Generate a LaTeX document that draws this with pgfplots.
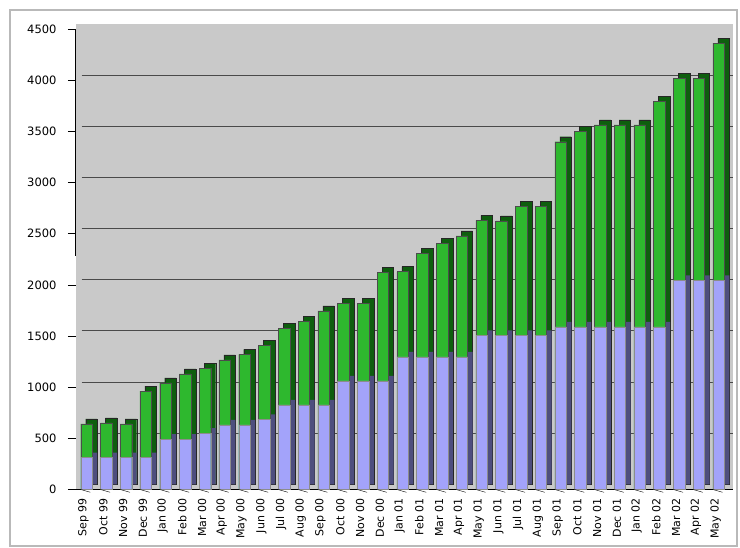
\documentclass[border=0pt]{standalone}
\usepackage{pgfplots}
\pgfplotsset{compat=1.18}
\usepackage{pgfplotstable}
\usepackage{fontspec}
\setmainfont{DejaVu Sans}

\definecolor{wallgray}{HTML}{C9C9C9}
\definecolor{gridgray}{HTML}{4A4A4A}
\definecolor{greenfront}{HTML}{2EB82E}
\definecolor{greenside}{HTML}{0E5E0E}
\definecolor{bluefront}{HTML}{A3A3FA}
\definecolor{blueside}{HTML}{4E4E7E}

% monthly totals and the lower (blue) share of each column
\pgfplotstableread{
idx total blue
0  640  310
1  650  310
2  640  310
3  960  310
4  1040 490
5  1130 490
6  1185 550
7  1265 630
8  1320 630
9  1410 685
10 1575 825
11 1640 825
12 1745 825
13 1820 1060
14 1820 1060
15 2125 1060
16 2130 1295
17 2310 1295
18 2405 1295
19 2480 1295
20 2630 1505
21 2625 1505
22 2765 1505
23 2765 1505
24 3400 1590
25 3500 1590
26 3565 1590
27 3565 1590
28 3565 1590
29 3795 1590
30 4020 2045
31 4020 2045
32 4365 2045
}\subs

\pgfplotsset{
  column/.style={ybar, bar width=11.5pt, bar shift=0pt},
  depth/.style={column, xshift=5pt, yshift=5pt},
}

\begin{document}
\begin{tikzpicture}
\useasboundingbox (0pt,0pt) rectangle (740pt,548pt);
\draw[gray!55, line width=1.5pt] (10pt,2pt) rectangle (737pt,538pt);
\begin{axis}[
  at={(76pt,58.7pt)}, anchor=south west, scale only axis,
  width=657pt, height=465.1pt,
  xmin=-0.53, xmax=32.73, ymin=0, ymax=4550,
  clip=false,
  axis background/.style={fill=wallgray},
  axis x line*=bottom, axis y line*=left,
  y axis line style={draw=none},
  x axis line style={black, line width=0.8pt, -},
  tick align=outside,
  major tick length=8pt,
  ytick={0,500,...,4500},
  ytick style={black, line width=0.6pt},
  xtick={-0.15,0.85,...,31.85},
  xtick style={draw=none},
  xticklabels={Sep 99,Oct 99,Nov 99,Dec 99,Jan 00,Feb 00,Mar 00,Apr 00,May 00,Jun 00,Jul 00,Aug 00,Sep 00,Oct 00,Nov 00,Dec 00,Jan 01,Feb 01,Mar 01,Apr 01,May 01,Jun 01,Jul 01,Aug 01,Sep 01,Oct 01,Nov 01,Dec 01,Jan 02,Feb 02,Mar 02,Apr 02,May 02},
  xticklabel style={rotate=90, anchor=east, font=\fontsize{11}{13}\selectfont, inner sep=1pt},
  yticklabel style={font=\fontsize{11.5}{13}\selectfont, xshift=-8pt},
  /pgf/number format/assume math mode=true,
  /pgf/number format/1000 sep={},
]
% back-wall gridlines
\pgfplotsinvokeforeach{500,1000,...,4000}{
  \draw[gridgray, line width=1pt, yshift=5pt] (axis cs:-0.24,#1) -- (axis cs:32.73,#1);
}
% side and top faces of the columns
\addplot[depth, fill=greenside, draw=black!85] table[x=idx, y=total] {\subs};
\addplot[depth, fill=blueside, draw=none] table[x=idx, y=blue] {\subs};
% front faces
\addplot[column, fill=greenfront, draw=black!70] table[x=idx, y=total] {\subs};
\addplot[column, fill=bluefront, draw=black!45] table[x=idx, y=blue] {\subs};
% short marks under the floor
\pgfplotsinvokeforeach{0,...,32}{
  \draw[black, xshift=-6.5pt] (axis cs:#1,0) -- ++(0,-3pt);
}
% upper part of the value axis line
\draw[black, line width=1pt] (axis cs:-0.53,4500) -- (axis cs:-0.53,2280);
\end{axis}
\end{tikzpicture}
\end{document}
